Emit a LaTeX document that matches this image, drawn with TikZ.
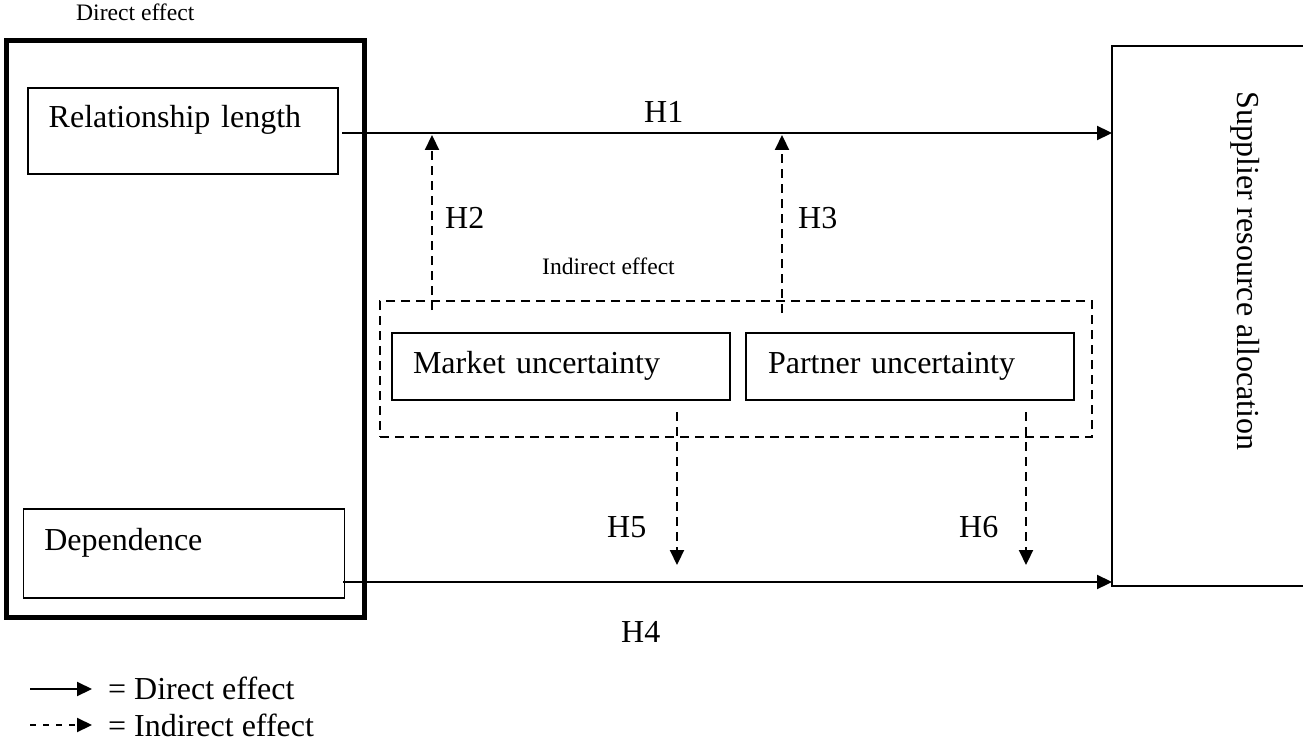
\documentclass[tikz,border=0pt]{standalone}
\usepackage{fontspec}
\setmainfont{Liberation Serif}
\usetikzlibrary{arrows.meta}
\newcommand{\bigtxt}{\fontsize{32}{38}\selectfont}
\newcommand{\smalltxt}{\fontsize{23.6}{28}\selectfont}
\tikzset{
  frame/.style={draw, outer sep=0pt, inner sep=0pt, anchor=north west},
  varbox/.style={draw, line width=1.6pt, outer sep=0pt, inner xsep=21pt, inner ysep=0pt,
    anchor=north west, align=left, text height=40pt, font=\bigtxt},
  directarrow/.style={line width=2.2pt, -{Triangle[length=15pt,width=14pt]}},
  indirectarrow/.style={directarrow, dash pattern=on 9pt off 6pt},
  hlabel/.style={anchor=base west, inner sep=0pt, font=\bigtxt},
  smalllabel/.style={anchor=base west, inner sep=0pt, font=\smalltxt},
}
\begin{document}
\begin{tikzpicture}[x=1pt, y=-1pt]
    % Page size
    \useasboundingbox (0,0) rectangle (1303,754);
    \clip (0,0) rectangle (1303,754);

    % Draw outer boxes
    \node[frame, line width=5pt, minimum width=358pt, minimum height=576pt] (directbox) at (6,41) {};
    \node[frame, line width=2.3pt, dash pattern=on 9pt off 6pt, minimum width=712pt, minimum height=136pt] (indirectbox) at (380,301) {};
    \node[frame, line width=1.6pt, minimum width=300pt, minimum height=540pt] (alloc) at (1112,46) {};
    \node[rotate=-90, anchor=base, font=\bigtxt] (alloctext) at (1237,271) {Supplier resource allocation};

    % Draw variable boxes
    \node[varbox, text width=268pt, text depth=46pt] (length) at (27.7,88) {Relationship length};
    \node[varbox, text width=279pt, text height=41pt, text depth=48pt] (dep) at (23.3,509) {Dependence};
    \node[varbox, text width=296pt, text depth=27pt] (market) at (392,333) {Market uncertainty};
    \node[varbox, inner xsep=22pt, text width=284pt, text depth=27pt] (partner) at (746,333) {Partner uncertainty};

    % Box labels
    \node[smalllabel] (directlbl) at (76,21) {Direct effect};
    \node[smalllabel] (indirectlbl) at (542,274) {Indirect effect};

    % Direct effects
    \coordinate (h1-a) at (342,133);
    \draw[directarrow] (h1-a) -- (h1-a -| alloc.west);
    \coordinate (h4-a) at (343,582);
    \draw[directarrow] (h4-a) -- (h4-a -| alloc.west);

    % Indirect effects
    \foreach \nm/\xx/\ya/\yb in {h2/432/310/135, h3/782/313/135, h5/677/412/565, h6/1026/412/565} {
        \coordinate (\nm-a) at (\xx,\ya);
        \coordinate (\nm-b) at (\xx,\yb);
        \draw[indirectarrow] (\nm-a) -- (\nm-b);
    }

    % Hypothesis labels
    \foreach \nm/\xx/\yy in {H1/644/123, H2/445/229, H3/798/229, H4/621/642, H5/607/537, H6/959/537}
        \node[hlabel] (\nm) at (\xx,\yy) {\nm};

    % Legend
    \coordinate (leg-a) at (30,689);
    \coordinate (leg-b) at (92,689);
    \draw[directarrow] (leg-a) -- (leg-b);
    \node[hlabel] (legdirect) at (108,699) {= Direct effect};
    \coordinate (leg-c) at (30,725);
    \coordinate (leg-d) at (92,725);
    \draw[indirectarrow, dash pattern=on 6pt off 7pt] (leg-c) -- (leg-d);
    \node[hlabel] (legindirect) at (108,736) {= Indirect effect};
\end{tikzpicture}
\end{document}
